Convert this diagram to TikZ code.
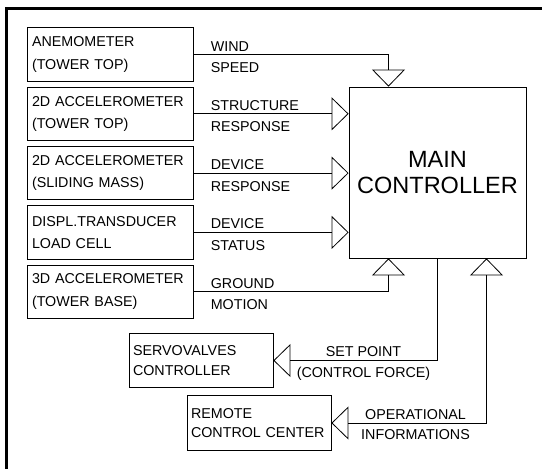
\documentclass[tikz,border=0pt]{standalone}
\usepackage{fontspec}
\setmainfont{Liberation Sans}
\usetikzlibrary{arrows.meta, positioning, calc}
\tikzset{
  every picture/.style={line width=0.8pt},
  sensor/.style={draw, align=left, inner xsep=5pt, inner ysep=0pt, text width=156pt,
    minimum width=166pt, minimum height=53.5pt, font=\fontsize{14.3}{22.5}\selectfont},
  ctrl/.style={draw, align=left, inner xsep=4pt, inner ysep=0pt, text width=136pt,
    minimum width=144pt, minimum height=54.5pt, font=\fontsize{14.3}{19.5}\selectfont},
  mainbox/.style={draw, align=center, inner sep=0pt, minimum width=177pt, minimum height=171pt,
    font=\fontsize{23.5}{26.7}\selectfont},
  sig/.style={-{Triangle[open, length=17pt, width=33pt]}},
  sigboth/.style={{Triangle[open, length=17pt, width=33pt]}-{Triangle[open, length=17pt, width=33pt]}},
  lbl/.style={font=\fontsize{14.3}{16}\selectfont, inner sep=0pt},
}

\begin{document}
\begin{tikzpicture}[x=1pt, y=-1pt]
  \useasboundingbox (0,0) rectangle (542,469);
  \draw[line width=2.7pt] (6.8,469) |- (542,8.7);

  \node[sensor] (anem) at (110,54.5) {ANEMOMETER\\(TOWER TOP)};
  \node[sensor, below=5pt of anem] (acctop) {2D ACCELEROMETER\\(TOWER TOP)};
  \node[sensor, below=5pt of acctop] (accmass) {2D ACCELEROMETER\\(SLIDING MASS)};
  \node[sensor, below=5pt of accmass] (displ) {DISPL.TRANSDUCER\\LOAD CELL};
  \node[sensor, below=5pt of displ] (accbase) {3D ACCELEROMETER\\(TOWER BASE)};
  \node[mainbox] (main) at (437.5,172.5) {MAIN\\CONTROLLER};
  \node[ctrl] (servo) at (201,360.5) {SERVOVALVES\\CONTROLLER};
  \node[ctrl] (remote) at (259,423) {REMOTE\\CONTROL CENTER};

  \draw[sig] (anem.east) -| ([xshift=-49pt]main.north);
  \draw[sig] (acctop.east) -- (acctop.east -| main.west);
  \draw[sig] (accmass.east) -- (accmass.east -| main.west);
  \draw[sig] (displ.east) -- (displ.east -| main.west);
  \draw[sig] (accbase.east) -| ([xshift=-49pt]main.south);
  \draw[sig] (main.south) |- (servo.east);
  \draw[sigboth] (remote.east) -| ([xshift=49pt]main.south);

  \foreach \n/\a/\b in {anem/WIND/SPEED, acctop/STRUCTURE/RESPONSE, accmass/DEVICE/RESPONSE,
      displ/DEVICE/STATUS, accbase/GROUND/MOTION} {
    \node[lbl, anchor=base west] (\n up) at ([xshift=17pt, yshift=3.5pt]\n.east) {\a};
    \node[lbl, anchor=base west] (\n dn) at ([xshift=17pt, yshift=-18pt]\n.east) {\b};
  }
  \node[lbl, anchor=base] (spup) at ([xshift=-74pt, yshift=4pt]main.south |- servo.east) {SET POINT};
  \node[lbl, anchor=base] (spdn) at ([xshift=-74pt, yshift=-16.5pt]main.south |- servo.east) {(CONTROL FORCE)};
  \node[lbl, anchor=base] (opup) at ([xshift=-22pt, yshift=4pt]main.south |- remote.east) {OPERATIONAL};
  \node[lbl, anchor=base] (opdn) at ([xshift=-22pt, yshift=-16pt]main.south |- remote.east) {INFORMATIONS};
\end{tikzpicture}
\end{document}
